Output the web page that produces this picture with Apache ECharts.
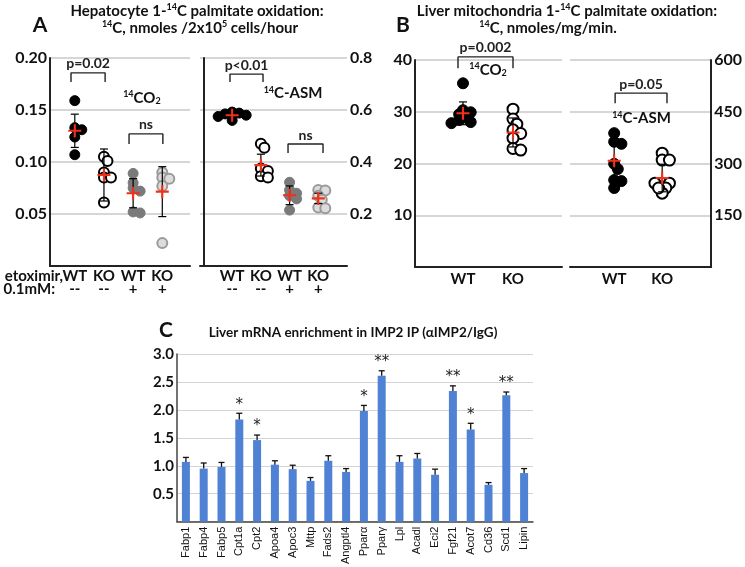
<!DOCTYPE html>
<html><head><meta charset="utf-8">
<script src="https://cdn.jsdelivr.net/npm/echarts@6/dist/echarts.min.js"></script>
<style>html,body{margin:0;padding:0;background:#fff}#c{width:745px;height:567px}</style>
</head><body><div id="c"></div>
<script>
// ---------- Panel A : hepatocyte oxidation ----------
const groupLabelsA = ['WT', 'KO', 'WT', 'KO'];
const etoxA = ['--', '--', '+', '+'];
const aCo2WT   = [0.159, 0.133, 0.131, 0.124, 0.107];
const aCo2KO   = [0.105, 0.101, 0.090, 0.085, 0.085, 0.061];
const aCo2WTe  = [0.089, 0.080, 0.075, 0.072, 0.052, 0.051];
const aCo2KOe  = [0.090, 0.085, 0.084, 0.077, 0.022];
const aCo2Mean = [0.130, 0.0875, 0.070, 0.0715];
const aCo2SD   = [0.016, 0.025, 0.014, 0.024];
const aAsmWT   = [0.592, 0.588, 0.585, 0.580, 0.575, 0.560];
const aAsmKO   = [0.470, 0.455, 0.375, 0.365, 0.345, 0.340];
const aAsmWTe  = [0.322, 0.292, 0.280, 0.270, 0.258, 0.215];
const aAsmKOe  = [0.292, 0.290, 0.270, 0.255, 0.225, 0.222];
const aAsmMean = [0.580, 0.388, 0.272, 0.260];
const aAsmSD   = [0.010, 0.042, 0.036, 0.020];
// ---------- Panel B : liver mitochondria ----------
const groupLabelsB = ['WT', 'KO'];
const bCo2WT   = [35.5, 30.3, 29.9, 29.5, 28.8, 28.4, 28.0, 27.8];
const bCo2KO   = [30.5, 28.6, 27.6, 26.5, 25.8, 24.9, 22.9, 22.6];
const bCo2Mean = [29.7, 26.0];
const bCo2SD   = [2.2, 2.8];
const bAsmWT   = [388, 363, 357, 299, 284, 252, 249, 229];
const bAsmKO   = [330, 310, 310, 243, 243, 243, 229, 214, 229];
const bAsmMean = [308, 258];
const bAsmSD   = [55, 40];
// ---------- Panel C : IMP2 IP enrichment ----------
const genes  = ['Fabp1','Fabp4','Fabp5','Cpt1a','Cpt2','Apoa4','Apoc3','Mttp','Fads2','Angptl4','Pparα','Pparγ','Lpl','Acadl','Eci2','Fgf21','Acot7','Cd36','Scd1','Lipin'];
const enrich = [1.07, 0.95, 0.98, 1.83, 1.46, 1.02, 0.94, 0.73, 1.09, 0.89, 1.98, 2.61, 1.07, 1.13, 0.84, 2.34, 1.65, 0.66, 2.26, 0.87];
const enrichErr = [0.08, 0.10, 0.08, 0.11, 0.09, 0.07, 0.07, 0.06, 0.09, 0.06, 0.10, 0.09, 0.11, 0.09, 0.10, 0.09, 0.11, 0.04, 0.06, 0.08];
const stars  = ['', '', '', '*', '*', '', '', '', '', '', '*', '**', '', '', '', '**', '*', '', '**', ''];

const FONT = 'Lato, "Open Sans", sans-serif';
const TXT = '#111';

const grids = [
  {left: 50, top: 58, width: 140, height: 208},
  {left: 200, top: 58, width: 147, height: 208},
  {left: 415, top: 60, width: 147, height: 207},
  {left: 570, top: 60, width: 150, height: 207},
  {left: 177, top: 354, width: 356, height: 169}
];
const xr = [[0.15, 4.95], [-0.12, 5.0], [0.04, 2.98], [0.08, 3.02]];
const yr = [[0, 0.2, 0.05, 2], [0, 0.8, 0.2, 1], [0, 40, 10, 0], [0, 600, 150, 0]];

const styles = {
  wt:  {color: '#000', borderColor: '#000', borderWidth: 1},
  ko:  {color: '#fff', borderColor: '#000', borderWidth: 2},
  wte: {color: '#7a7a7a', borderColor: '#7a7a7a', borderWidth: 1},
  koe: {color: '#dcdcdc', borderColor: '#9a9a9a', borderWidth: 2}
};

function swarm(vals, pxPerY, d) {
  const order = vals.map((v, i) => i).sort((a, b) => vals[b] - vals[a]);
  const placed = []; const off = new Array(vals.length).fill(0);
  for (const i of order) {
    const y = vals[i] * pxPerY;
    for (let k = 0; k < 30; k++) {
      const c = k === 0 ? 0 : (k % 2 ? 1 : -1) * Math.ceil(k / 2) * d * 0.35;
      if (placed.every(p => Math.hypot(p.x - c, p.y - y) >= d * 0.5)) { off[i] = c; placed.push({x: c, y}); break; }
    }
  }
  return off;
}

const series = [];
function addGroup(g, pos, vals, mean, sd, st, size) {
  const pxPerY = grids[g].height / (yr[g][1] - yr[g][0]);
  const pxPerX = grids[g].width / (xr[g][1] - xr[g][0]);
  const off = swarm(vals, pxPerY, size);
  series.push({
    type: 'scatter', xAxisIndex: g, yAxisIndex: g, symbolSize: size, z: 2, silent: true,
    itemStyle: Object.assign({opacity: 1}, st),
    data: vals.map((v, i) => [pos + off[i] / pxPerX, v])
  });
  series.push({
    type: 'custom', xAxisIndex: g, yAxisIndex: g, z: 3, silent: true,
    data: [[pos, mean, sd]],
    renderItem: (params, api) => {
      const x = api.value(0), m = api.value(1), s = api.value(2);
      const t = api.coord([x, m + s]), b = api.coord([x, m - s]);
      const ls = {stroke: '#000', lineWidth: 1.2};
      return {type: 'group', children: [
        {type: 'line', shape: {x1: t[0], y1: t[1], x2: b[0], y2: b[1]}, style: ls},
        {type: 'line', shape: {x1: t[0] - 4, y1: t[1], x2: t[0] + 4, y2: t[1]}, style: ls},
        {type: 'line', shape: {x1: b[0] - 4, y1: b[1], x2: b[0] + 4, y2: b[1]}, style: ls}
      ]};
    }
  });
  series.push({
    type: 'scatter', xAxisIndex: g, yAxisIndex: g, z: 4, silent: true,
    symbol: 'path://M4.2,0h1.6v4.2h4.2v1.6h-4.2v4.2h-1.6v-4.2h-4.2v-1.6h4.2z',
    symbolSize: 13, itemStyle: {color: '#f0301a', opacity: 1},
    data: [[pos, mean]]
  });
}

addGroup(0, 1, aCo2WT, aCo2Mean[0], aCo2SD[0], styles.wt, 10);
addGroup(0, 2, aCo2KO, aCo2Mean[1], aCo2SD[1], styles.ko, 10);
addGroup(0, 3, aCo2WTe, aCo2Mean[2], aCo2SD[2], styles.wte, 10);
addGroup(0, 4, aCo2KOe, aCo2Mean[3], aCo2SD[3], styles.koe, 10);
addGroup(1, 1, aAsmWT, aAsmMean[0], aAsmSD[0], styles.wt, 10);
addGroup(1, 2, aAsmKO, aAsmMean[1], aAsmSD[1], styles.ko, 10);
addGroup(1, 3, aAsmWTe, aAsmMean[2], aAsmSD[2], styles.wte, 10);
addGroup(1, 4, aAsmKOe, aAsmMean[3], aAsmSD[3], styles.koe, 10);
addGroup(2, 1, bCo2WT, bCo2Mean[0], bCo2SD[0], styles.wt, 11);
addGroup(2, 2, bCo2KO, bCo2Mean[1], bCo2SD[1], styles.ko, 11);
addGroup(3, 1, bAsmWT, bAsmMean[0], bAsmSD[0], styles.wt, 11);
addGroup(3, 2, bAsmKO, bAsmMean[1], bAsmSD[1], styles.ko, 11);

const rich = {
  sup: {fontSize: 9, fontFamily: FONT, fontWeight: 'bold', color: TXT, verticalAlign: 'top', padding: [0, 0, 6, 0]},
  m: {fontSize: 15, fontFamily: FONT, fontWeight: 'bold', color: TXT},
  sub: {fontSize: 9, fontFamily: FONT, fontWeight: 'bold', color: TXT, padding: [7, 0, 0, 0]}
};
function annot(g, x, y, text, lab) {
  series.push({
    type: 'scatter', xAxisIndex: g, yAxisIndex: g, clip: false, silent: true, symbolSize: 0, z: 6,
    itemStyle: {opacity: 1, color: TXT},
    data: [[x, y]],
    label: Object.assign({show: true, formatter: text, fontFamily: FONT, rich: rich, position: 'inside',
      color: TXT, opacity: 1, textBorderWidth: 0, textShadowBlur: 0}, lab)
  });
}
// significance brackets (data coordinates)
function bracket(g, x1, x2, yTop, yLeg, label) {
  series.push({
    type: 'line', xAxisIndex: g, yAxisIndex: g, clip: false, silent: true, symbol: 'none', z: 5,
    lineStyle: {color: '#222', width: 1.4},
    data: [[x1, yLeg], [x1, yTop], [x2, yTop], [x2, yLeg]]
  });
  annot(g, (x1 + x2) / 2, yTop, label, {fontSize: 14, fontWeight: 'bold', color: '#222', position: 'top', distance: 2});
}
bracket(0, 0.87, 2.04, 0.1857, 0.177, 'p=0.02');
bracket(0, 2.86, 4.02, 0.127, 0.1174, 'ns');
bracket(1, 0.925, 2.075, 0.738, 0.708, 'p<0.01');
bracket(1, 2.946, 4.165, 0.469, 0.435, 'ns');
bracket(2, 0.90, 2.00, 40.6, 38.4, 'p=0.002');
bracket(3, 1.02, 2.10, 504, 475, 'p=0.05');
annot(0, 3.30, 0.1616, '{sup|14}{m|CO}{sub|2}', {});
annot(1, 3.12, 0.665, '{sup|14}{m|C-ASM}', {});
annot(2, 1.50, 38.06, '{sup|14}{m|CO}{sub|2}', {});
annot(3, 1.57, 432, '{sup|14}{m|C-ASM}', {});

// Panel C
series.push({
  type: 'bar', xAxisIndex: 4, yAxisIndex: 4, barWidth: 8, silent: true,
  itemStyle: {color: '#4f82d4'}, data: enrich
});
series.push({
  type: 'custom', xAxisIndex: 4, yAxisIndex: 4, silent: true, z: 3,
  data: enrich.map((v, i) => [i, v, enrichErr[i]]),
  renderItem: (params, api) => {
    const t = api.coord([api.value(0), api.value(1) + api.value(2)]);
    const b = api.coord([api.value(0), api.value(1)]);
    const ls = {stroke: '#111', lineWidth: 1.3};
    return {type: 'group', children: [
      {type: 'line', shape: {x1: t[0], y1: t[1], x2: b[0], y2: b[1]}, style: ls},
      {type: 'line', shape: {x1: t[0] - 3, y1: t[1], x2: t[0] + 3, y2: t[1]}, style: ls}
    ]};
  }
});
series.push({
  type: 'scatter', xAxisIndex: 4, yAxisIndex: 4, symbolSize: 0, silent: true, z: 6,
  itemStyle: {opacity: 1, color: '#222'},
  data: enrich.map((v, i) => [i, v + enrichErr[i]]),
  label: {show: true, position: 'top', distance: 1, fontSize: 15, color: '#222', fontFamily: 'DejaVu Sans',
    textBorderWidth: 0, formatter: p => stars[p.dataIndex]}
});

const axisLine = {show: true, lineStyle: {color: '#222', width: 2}};
const xAxes = [0, 1, 2, 3].map(g => ({
  type: 'value', gridIndex: g, min: xr[g][0], max: xr[g][1],
  axisLine: axisLine, axisTick: {show: false}, splitLine: {show: false},
  axisLabel: g < 2 ? {
    customValues: [1, 2, 3, 4], margin: 3, lineHeight: 13,
    formatter: v => '{a|' + groupLabelsA[Math.round(v) - 1] + '}\n{b|' + etoxA[Math.round(v) - 1] + '}',
    rich: {a: {fontFamily: FONT, fontWeight: 'bold', fontSize: 15, color: TXT, lineHeight: 14},
           b: {fontFamily: FONT, fontWeight: 'bold', fontSize: 15, color: TXT, lineHeight: 13}}
  } : {
    customValues: [1, 2], margin: 5, fontFamily: FONT, fontWeight: 'bold', fontSize: 15, color: TXT,
    formatter: v => groupLabelsB[Math.round(v) - 1]
  }
}));
xAxes.push({
  type: 'category', gridIndex: 4, data: genes,
  axisLine: {show: true, lineStyle: {color: '#444', width: 1.5}}, axisTick: {show: false},
  axisLabel: {rotate: 90, interval: 0, fontSize: 11, fontFamily: '"Liberation Sans", Arial, sans-serif', color: TXT, margin: 5}
});
const yAxes = [0, 1, 2, 3].map(g => ({
  type: 'value', gridIndex: g, min: yr[g][0], max: yr[g][1], interval: yr[g][2],
  position: (g % 2) ? 'right' : 'left',
  axisLine: {show: true, lineStyle: {color: '#222', width: 2}}, axisTick: {show: false},
  splitLine: {show: true, lineStyle: {color: '#c9c9c9', width: 1.5}},
  axisLabel: {fontFamily: FONT, fontWeight: 'bold', fontSize: 16, color: TXT, margin: 3,
    formatter: v => v === 0 ? '' : (yr[g][3] ? v.toFixed(yr[g][3]) : String(v))}
}));
yAxes.push({
  type: 'value', gridIndex: 4, min: 0, max: 3, interval: 0.5,
  axisLine: {show: true, lineStyle: {color: '#444', width: 1.5}}, axisTick: {show: false},
  splitLine: {show: true, lineStyle: {color: '#d4d4d4', width: 1.2}},
  axisLabel: {fontFamily: FONT, fontWeight: 'bold', fontSize: 15, color: TXT, margin: 3,
    formatter: v => v === 0 ? '' : v.toFixed(1)}
});

const tRich = {
  t: {fontFamily: FONT, fontWeight: 'bold', fontSize: 15, color: TXT},
  s: {fontFamily: FONT, fontWeight: 'bold', fontSize: 9, color: TXT, verticalAlign: 'top', padding: [0, 0, 7, 0]}
};
function gtext(x, y, text, extra) {
  return {type: 'text', x: x, y: y, silent: true,
    style: Object.assign({text: text, rich: tRich, align: 'center', verticalAlign: 'middle', fill: TXT,
      font: 'bold 15px ' + FONT}, extra || {})};
}
const graphic = [
  gtext(197, 11, '{t|Hepatocyte 1-}{s|14}{t|C palmitate oxidation:}'),
  gtext(200, 28, '{s|14}{t|C, nmoles /2x10}{s|5}{t| cells/hour}'),
  gtext(567, 11, '{t|Liver mitochondria 1-}{s|14}{t|C palmitate oxidation:}'),
  gtext(548, 28, '{s|14}{t|C, nmoles/mg/min.}'),
  gtext(353, 333, '{t|Liver mRNA enrichment in IMP2 IP (αIMP2/IgG)}', {rich: {t: {fontFamily: FONT, fontWeight: 'bold', fontSize: 13.5, color: TXT}}}),
  {type: 'text', x: 40, y: 25, style: {text: 'A', font: 'bold 21px ' + FONT, fill: TXT, align: 'center', verticalAlign: 'middle'}},
  {type: 'text', x: 403, y: 25, style: {text: 'B', font: 'bold 21px ' + FONT, fill: TXT, align: 'center', verticalAlign: 'middle'}},
  {type: 'text', x: 166, y: 330, style: {text: 'C', font: 'bold 21px ' + FONT, fill: TXT, align: 'center', verticalAlign: 'middle'}},
  {type: 'text', x: 63, y: 276, style: {text: 'etoximir,', font: 'bold 15px ' + FONT, fill: TXT, align: 'right', verticalAlign: 'middle'}},
  {type: 'text', x: 55, y: 289, style: {text: '0.1mM:', font: 'bold 15px ' + FONT, fill: TXT, align: 'right', verticalAlign: 'middle'}}
];

const chart = echarts.init(document.getElementById('c'), null, {renderer: 'canvas'});
chart.setOption({
  animation: false, backgroundColor: '#fff',
  grid: grids, xAxis: xAxes, yAxis: yAxes, series: series, graphic: graphic
});
</script></body></html>
